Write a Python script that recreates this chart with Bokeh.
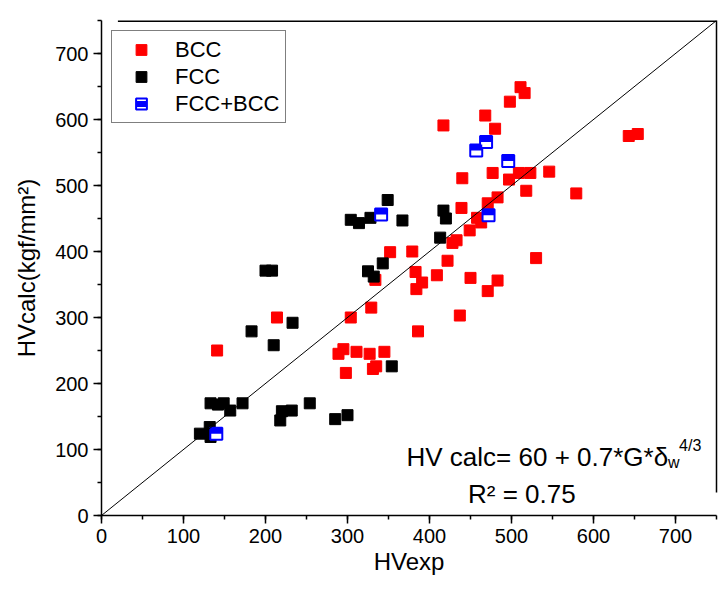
from bokeh.plotting import figure
from bokeh.models import (Range1d, SingleIntervalTicker, LinearAxis, FixedTicker,
                          Legend, LegendItem, Label, Slope)
from bokeh.embed import file_html
from bokeh.resources import INLINE

# ---- data (HVexp, HVcalc) ----
bcc_x = [141, 214, 295, 289, 311, 327, 345, 298, 335, 331, 304, 329, 334, 352, 379,
         383, 384, 386, 391, 409, 422, 428, 433, 437, 439, 440, 417, 449, 450, 458,
         463, 471, 471, 477, 480, 468, 483, 483, 497, 498, 509, 511, 516, 518, 523,
         530, 546, 579, 643, 654]
bcc_y = [250, 300, 252, 245, 248, 245, 248, 216, 226, 222, 300, 315, 357, 399, 400,
         369, 343, 279, 353, 364, 386, 413, 417, 303, 466, 511, 591, 432, 360, 451,
         444, 473, 340, 519, 586, 606, 482, 356, 509, 627, 519, 649, 640, 492, 519,
         390, 521, 488, 575, 578]

fcc_x = [120, 132, 133, 133, 142, 149, 157, 172, 183, 200, 208, 210, 218, 220, 232,
         233, 254, 285, 300, 304, 314, 325, 328, 332, 343, 349, 354, 367, 413, 417, 420]
fcc_y = [124, 134, 119, 170, 168, 170, 159, 170, 279, 371, 371, 258, 144, 158, 159,
         292, 170, 146, 152, 448, 443, 370, 451, 362, 382, 478, 226, 447, 421, 462, 450]

mix_x = [140, 341, 457, 469, 496, 472]
mix_y = [124, 456, 553, 566, 537, 455]

x_ticks_interval = 100
axis_max = 750
FONT = "Liberation Sans"

FRAME_H = 495
MARK = 11
MIX_MARK = 12

p = figure(width=718, height=592, x_range=Range1d(0, axis_max), y_range=Range1d(0, axis_max),
           output_backend="svg", toolbar_location=None,
           min_border_left=101, min_border_right=2, min_border_top=20, min_border_bottom=77)
p.grid.visible = False
p.outline_line_color = None
p.background_fill_color = "white"
p.border_fill_color = "white"

for ax in (p.xaxis[0], p.yaxis[0]):
    ax.ticker = SingleIntervalTicker(interval=x_ticks_interval, num_minor_ticks=2)
    ax.axis_line_width = 1.5
    ax.major_tick_line_width = 1.5
    ax.minor_tick_line_width = 1.5
    ax.major_tick_out = 8
    ax.major_tick_in = 0
    ax.minor_tick_out = 4
    ax.minor_tick_in = 0
    ax.major_label_text_font = FONT
    ax.major_label_text_font_size = "20px"
    ax.major_label_text_color = "black"
    ax.axis_label_text_font = FONT
    ax.axis_label_text_font_size = "24px"
    ax.axis_label_text_font_style = "normal"
    ax.axis_label_text_color = "black"

p.xaxis.axis_label = "HVexp"
p.xaxis.axis_label_standoff = 2
p.yaxis.axis_label = "HVcalc(kgf/mm\u00b2)"
p.yaxis.axis_label_standoff = 12

right_ax = LinearAxis(ticker=FixedTicker(ticks=[]), bounds=(35, axis_max), axis_line_width=1.5,
                      major_tick_out=0, minor_tick_out=0, major_label_standoff=0)
p.add_layout(right_ax, "right")

# top frame line (half clipped by the frame edge, hence the doubled width)
p.segment(x0=[20], y0=[axis_max], x1=[axis_max], y1=[axis_max], line_color="black", line_width=3)

p.add_layout(Slope(gradient=1, y_intercept=0, line_color="black", line_width=1))

r_bcc = p.scatter(bcc_x, bcc_y, marker="square", size=MARK, fill_color="#ff0000", line_color="#ff0000")
r_fcc = p.scatter(fcc_x, fcc_y, marker="square", size=MARK, fill_color="black", line_color="black")
r_mix = p.scatter(mix_x, mix_y, marker="square", size=MIX_MARK, fill_color="white", line_color="#0000ff",
                  line_width=2)
# upper half of the FCC+BCC marker, filled blue
dy = (MIX_MARK / 4.0) * axis_max / FRAME_H
r_mix_top = p.scatter(mix_x, [v + dy for v in mix_y], marker="dash", size=MIX_MARK,
                      line_color="#0000ff", line_width=MIX_MARK / 2.0, line_cap="butt")

legend = Legend(items=[LegendItem(label="BCC", renderers=[r_bcc]),
                       LegendItem(label="FCC", renderers=[r_fcc]),
                       LegendItem(label="FCC+BCC", renderers=[r_mix, r_mix_top])],
                location="top_left", margin=10, padding=5, spacing=0,
                glyph_width=48, glyph_height=27, label_standoff=10,
                label_text_font=FONT, label_text_font_size="22px", label_text_color="black",
                border_line_color="black", border_line_width=1,
                background_fill_color="white", background_fill_alpha=1)
p.add_layout(legend, "center")

eq_x = 691
eq_y = 89
p.add_layout(Label(x=eq_x, y=eq_y, text="HV calc= 60 + 0.7*G*\u03b4", text_align="right",
                   text_baseline="alphabetic", text_font=FONT, text_font_size="26px",
                   text_color="black"))
p.add_layout(Label(x=eq_x, y=eq_y, y_offset=-6, text="w", text_align="left",
                   text_baseline="alphabetic", text_font=FONT, text_font_size="16px",
                   text_color="black"))
p.add_layout(Label(x=eq_x, y=eq_y, x_offset=11, y_offset=11, text="4/3", text_align="left",
                   text_baseline="alphabetic", text_font=FONT, text_font_size="16px",
                   text_color="black"))
p.add_layout(Label(x=447, y=32, text="R\u00b2 = 0.75", text_align="left",
                   text_baseline="alphabetic", text_font=FONT, text_font_size="26px",
                   text_color="black"))

open("out.html", "w").write(file_html(p, INLINE))
